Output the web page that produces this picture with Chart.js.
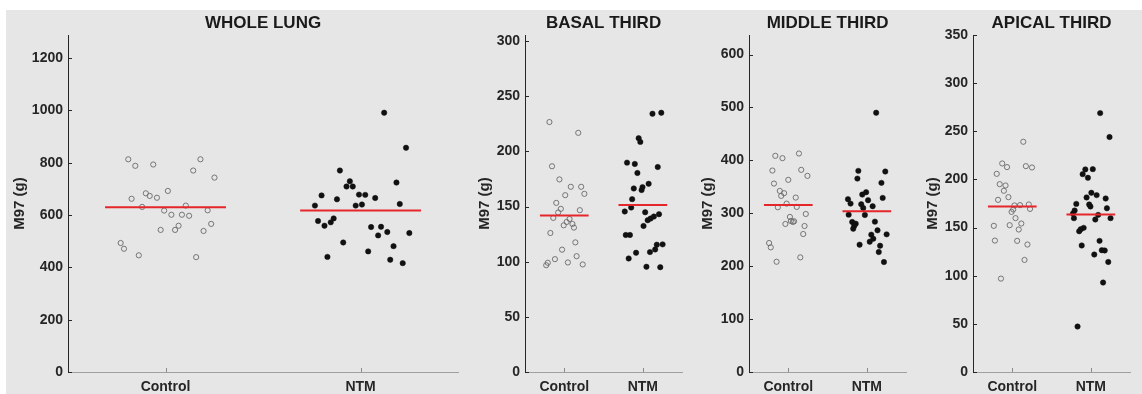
<!DOCTYPE html>
<html>
<head>
<meta charset="utf-8">
<script src="https://cdn.jsdelivr.net/npm/chart.js@4.4.1/dist/chart.umd.min.js"></script>
<style>
  html, body { margin: 0; padding: 0; background: #fff; }
  #stage { position: absolute; left: 6px; top: 10px; width: 1136px; height: 384px; background: #e6e6e6; }
  canvas { position: absolute; top: 10px; }
</style>
</head>
<body>
<div id="stage"></div>
<canvas id="c1" width="457" height="384" style="left:6px"></canvas>
<canvas id="c2" width="214" height="384" style="left:473px"></canvas>
<canvas id="c3" width="214" height="384" style="left:697px"></canvas>
<canvas id="c4" width="214" height="384" style="left:921px"></canvas>
<script>
const categories = ['Control', 'NTM'];
const panelTitles = ['WHOLE LUNG', 'BASAL THIRD', 'MIDDLE THIRD', 'APICAL THIRD'];
const yLabel = 'M97 (g)';

// [jittered x, value]  -- x: 1 = Control, 2 = NTM
const wholeControl = [[0.809,813],[0.845,788],[0.937,793],[1.179,813],[1.142,770],[1.251,743],[1.012,692],[0.899,683],[0.919,673],[0.956,666],[0.826,662],[0.880,631],[1.104,636],[0.993,617],[1.216,618],[1.030,601],[1.084,601],[1.121,597],[1.234,566],[1.067,559],[1.049,543],[0.975,543],[1.195,539],[0.770,493],[0.787,471],[0.863,446],[1.157,439]];
const wholeNtm = [[2.121,991],[2.233,857],[1.894,770],[1.945,729],[1.928,709],[1.960,709],[2.184,724],[1.800,675],[1.879,660],[1.992,678],[2.024,677],[2.075,665],[1.766,636],[1.975,636],[2.007,640],[2.201,642],[1.782,577],[1.815,559],[1.862,587],[1.847,572],[2.054,554],[2.105,555],[2.090,522],[2.137,535],[2.250,531],[1.911,495],[2.169,481],[2.039,461],[1.830,440],[2.152,429],[2.216,416]];

const basalControl = [[0.811,226.6],[1.178,216.8],[0.844,186.5],[0.938,174.6],[1.083,167.9],[1.215,167.9],[1.256,161.5],[1.012,160.3],[0.898,153.3],[0.956,147.9],[0.922,144.6],[1.198,146.7],[0.860,139.7],[1.067,138.7],[1.030,136.0],[0.993,133.0],[1.104,134.2],[1.123,130.9],[0.823,126.0],[1.141,117.5],[0.972,110.9],[0.881,102.3],[1.157,105.0],[1.046,99.3],[0.790,99.0],[0.770,96.8],[1.235,97.5]];
const basalNtm = [[2.123,234.1],[2.235,235.0],[1.947,212.0],[1.968,208.6],[1.799,189.8],[1.898,188.6],[2.190,185.8],[1.931,180.4],[1.885,166.4],[1.996,167.6],[1.984,164.9],[2.074,170.6],[1.864,156.7],[1.852,149.1],[1.770,145.5],[2.030,144.8],[2.206,143.0],[2.141,140.9],[2.099,139.1],[2.062,137.6],[2.009,132.4],[1.783,124.2],[1.836,124.2],[2.178,115.4],[2.252,115.7],[2.157,111.1],[2.091,108.7],[1.914,108.1],[1.820,102.9],[2.046,95.4],[2.222,95.0]];

const middleControl = [[0.835,408.6],[0.926,404.2],[1.136,413.0],[0.798,380.8],[1.165,382.1],[1.244,370.7],[0.818,356.2],[1.000,363.2],[0.892,342.3],[0.947,338.0],[0.910,332.9],[1.095,329.7],[0.979,318.3],[0.867,311.4],[1.108,312.0],[1.223,298.7],[1.021,293.1],[1.033,285.5],[1.074,284.9],[1.058,283.6],[0.963,279.8],[1.207,276.0],[1.190,260.8],[0.756,243.8],[0.777,235.6],[1.153,216.7],[0.851,208.4]];
const middleNtm = [[2.119,490.1],[1.892,380.2],[2.235,378.9],[1.880,365.6],[2.186,357.5],[1.991,339.8],[1.942,335.4],[1.760,326.6],[2.016,324.7],[1.793,318.3],[2.202,329.1],[1.929,317.1],[1.954,310.1],[2.074,313.3],[1.769,297.4],[1.975,296.8],[1.814,283.6],[1.859,280.4],[1.839,276.0],[1.827,270.9],[2.103,284.2],[2.136,267.8],[2.252,260.2],[2.057,259.6],[2.082,252.0],[2.037,246.3],[1.908,240.6],[2.169,238.7],[2.152,226.7],[2.218,207.8]];

const apicalControl = [[1.140,239.1],[0.872,216.6],[0.933,212.8],[1.173,213.8],[1.251,212.4],[0.802,205.8],[0.840,195.1],[0.914,193.7],[0.893,188.2],[0.951,181.6],[0.819,178.8],[1.028,173.0],[1.099,173.3],[1.210,174.0],[1.226,169.4],[1.012,168.8],[0.991,166.3],[1.041,159.8],[1.115,154.2],[0.967,152.5],[0.765,151.8],[1.082,148.0],[0.779,136.5],[1.062,136.2],[1.193,132.4],[1.156,116.4],[0.856,97.0]];
const apicalNtm = [[2.119,268.9],[2.238,244.0],[1.930,210.4],[2.025,210.7],[1.896,205.5],[1.963,201.7],[2.007,186.1],[2.074,183.7],[1.946,181.3],[2.189,180.2],[1.979,174.0],[1.995,171.9],[1.815,174.6],[2.205,170.1],[1.794,167.7],[1.773,164.6],[2.094,163.2],[1.785,159.8],[2.057,158.4],[2.251,159.8],[1.909,149.7],[1.872,148.3],[1.852,146.2],[2.111,136.2],[1.884,131.4],[2.140,126.5],[2.177,126.2],[2.044,122.0],[2.222,114.3],[2.156,92.9],[1.831,47.2]];

// group means (red bars)
const wholeMeans = [630, 617];
const basalMeans = [141.8, 151.5];
const middleMeans = [315.8, 303.9];
const apicalMeans = [171.9, 163.6];

const yMax = [1288, 305.5, 637, 350];
const yStep = [200, 50, 100, 50];

const FONT = "'Liberation Sans', Arial, Helvetica, sans-serif";
const INK = '#262626';

// MATLAB style ticks pointing into the axes
const inwardTicks = {
  id: 'inwardTicks',
  afterDraw(chart) {
    const { ctx, chartArea, scales: { x, y } } = chart;
    ctx.save();
    ctx.lineWidth = 1;
    ctx.strokeStyle = INK;
    y.ticks.forEach(t => {
      const py = Math.round(y.getPixelForValue(t.value)) + 0.5;
      ctx.beginPath();
      ctx.moveTo(chartArea.left, py);
      ctx.lineTo(chartArea.left + 4, py);
      ctx.stroke();
    });
    ctx.strokeStyle = '#8a8a8a';
    x.ticks.forEach(t => {
      const px = Math.round(x.getPixelForValue(t.value)) + 0.5;
      ctx.beginPath();
      ctx.moveTo(px, chartArea.bottom);
      ctx.lineTo(px, chartArea.bottom - 4);
      ctx.stroke();
    });
    ctx.restore();
  }
};

function meanLine(pos, value) {
  return {
    data: [[pos - 0.31, value], [pos + 0.31, value]],
    showLine: true,
    borderColor: '#e5262a',
    borderWidth: 2,
    pointRadius: 0,
    order: -1
  };
}

function makePanel(id, title, control, ntm, means, max, step, yWidth, titlePad) {
  new Chart(document.getElementById(id), {
    type: 'scatter',
    data: {
      datasets: [
        meanLine(1, means[0]),
        meanLine(2, means[1]),
        {
          data: control,
          pointStyle: 'circle',
          pointRadius: 2.6,
          pointBackgroundColor: 'rgba(0,0,0,0)',
          pointBorderColor: '#6a6a6a',
          pointBorderWidth: 0.9
        },
        {
          data: ntm,
          pointStyle: 'circle',
          pointRadius: 2.7,
          pointBackgroundColor: '#111',
          pointBorderColor: '#111',
          pointBorderWidth: 0.5
        }
      ]
    },
    options: {
      responsive: false,
      animation: false,
      events: [],
      layout: { padding: 0 },
      plugins: {
        legend: { display: false },
        tooltip: { enabled: false },
        title: {
          display: true,
          text: title,
          fullSize: false,
          color: '#1a1a1a',
          font: { family: FONT, size: 17, weight: 'bold', lineHeight: 1.2 },
          padding: { top: 3.2, bottom: 1.4 }
        }
      },
      scales: {
        x: {
          type: 'linear',
          min: 0.5,
          max: 2.5,
          grid: { display: false, drawTicks: false },
          border: { display: true, color: '#a0a0a0', width: 1 },
          afterBuildTicks: s => { s.ticks = categories.map((c, i) => ({ value: i + 1 })); },
          afterFit: s => { s.height = 22; },
          ticks: {
            padding: 6.3,
            color: INK,
            font: { family: FONT, size: 14, weight: 'bold' },
            callback: v => categories[v - 1]
          }
        },
        y: {
          min: 0,
          max: max,
          grid: { display: false, drawTicks: false },
          border: { display: true, color: INK, width: 1 },
          afterFit: s => { s.width = yWidth; },
          ticks: {
            stepSize: step,
            includeBounds: false,
            padding: 5,
            color: INK,
            font: { family: FONT, size: 14, weight: 'bold' },
            callback: v => String(v)
          },
          title: {
            display: true,
            text: yLabel,
            color: INK,
            font: { family: FONT, size: 15, weight: 'bold', lineHeight: 1.2 },
            padding: { top: titlePad, bottom: 0 }
          }
        }
      }
    },
    plugins: [inwardTicks]
  });
}

makePanel('c1', panelTitles[0], wholeControl, wholeNtm, wholeMeans, yMax[0], yStep[0], 62, 5);
makePanel('c2', panelTitles[1], basalControl, basalNtm, basalMeans, yMax[1], yStep[1], 52, 3);
makePanel('c3', panelTitles[2], middleControl, middleNtm, middleMeans, yMax[2], yStep[2], 52, 2.3);
makePanel('c4', panelTitles[3], apicalControl, apicalNtm, apicalMeans, yMax[3], yStep[3], 52, 2.7);
</script>
</body>
</html>
